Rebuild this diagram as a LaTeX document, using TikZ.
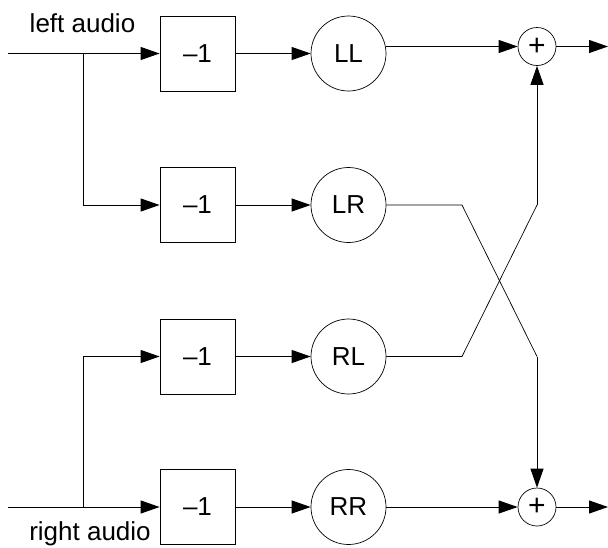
\documentclass[tikz,border=0pt]{standalone}
\usepackage{fontspec}
\setmainfont{Liberation Sans}
\usetikzlibrary{arrows.meta}
\usetikzlibrary{calc}
\tikzset{gain/.style={rectangle,draw,line width=0.8pt,minimum size=75pt,inner sep=0pt,
font=\fontsize{26}{26}\selectfont},
coef/.style={circle,draw,line width=0.7pt,minimum size=75pt,inner sep=0pt,
font=\fontsize{26}{26}\selectfont},
adder/.style={circle,draw,line width=0.7pt,minimum size=38pt,inner sep=0pt,
font=\fontsize{30}{30}\selectfont},
label/.style={anchor=base,inner sep=0pt,font=\fontsize{26}{26}\selectfont},
wire/.style={line width=1pt},
cross/.style={line width=0.7pt},
>={Triangle[length=19pt,width=13pt]}}

\begin{document}
\begin{tikzpicture}[x=1pt,y=-1pt]
  \useasboundingbox (0,0) rectangle (608,547);
  % labels
  \node (ltext) [label] at (82.5,32) {left audio};
  \node (rtext) [label] at (90,540) {right audio};
  % gains and coefficients
  \node (g1) [gain] at (197.5,53.5) {–1};
  \node (g2) [gain] at (197.5,205) {–1};
  \node (g3) [gain] at (197.5,356.5) {–1};
  \node (g4) [gain] at (197.5,507) {–1};
  \node (ll) [coef] at (348.5,53.5) {LL};
  \node (lr) [coef] at (348.5,205) {LR};
  \node (rl) [coef] at (348.5,356.5) {RL};
  \node (rr) [coef] at (348.5,507) {RR};
  \node (s1) [adder] at (537,46.5) {+};
  \node (s2) [adder] at (537,507) {+};
  % wire ends and corners
  \coordinate (lin) at (8,53.5);
  \coordinate (rin) at (8,507);
  \coordinate (lsplit) at (83,53.5);
  \coordinate (rsplit) at (83,507);
  \coordinate (lrk) at (462,205);
  \coordinate (rlk) at (462,356.5);
  \coordinate (upk) at (537,205);
  \coordinate (dnk) at (537,356.5);
  \coordinate (lout) at (608,46.5);
  \coordinate (rout) at (608,507);
  % inputs
  \draw [wire,->] (lin) -- (g1);
  \draw [wire,->] (lsplit) |- (g2);
  \draw [wire,->] (rin) -- (g4);
  \draw [wire,->] (rsplit) |- (g3);
  \foreach \g/\c in {g1/ll,g2/lr,g3/rl,g4/rr}
    \draw [wire,->] (\g) -- (\c);
  % sums
  \draw [wire,->] (s1 -| ll.east) -- (s1);
  \draw [wire,->] (rr) -- (s2);
  \draw [cross] (lr) -- (lrk) -- (dnk);
  \draw [cross] (rl) -- (rlk) -- (upk);
  \draw [wire,->] (upk) -- (s1);
  \draw [wire,->] (dnk) -- (s2);
  \draw [wire,->] (s1) -- (lout);
  \draw [wire,->] (s2) -- (rout);
\end{tikzpicture}
\end{document}
